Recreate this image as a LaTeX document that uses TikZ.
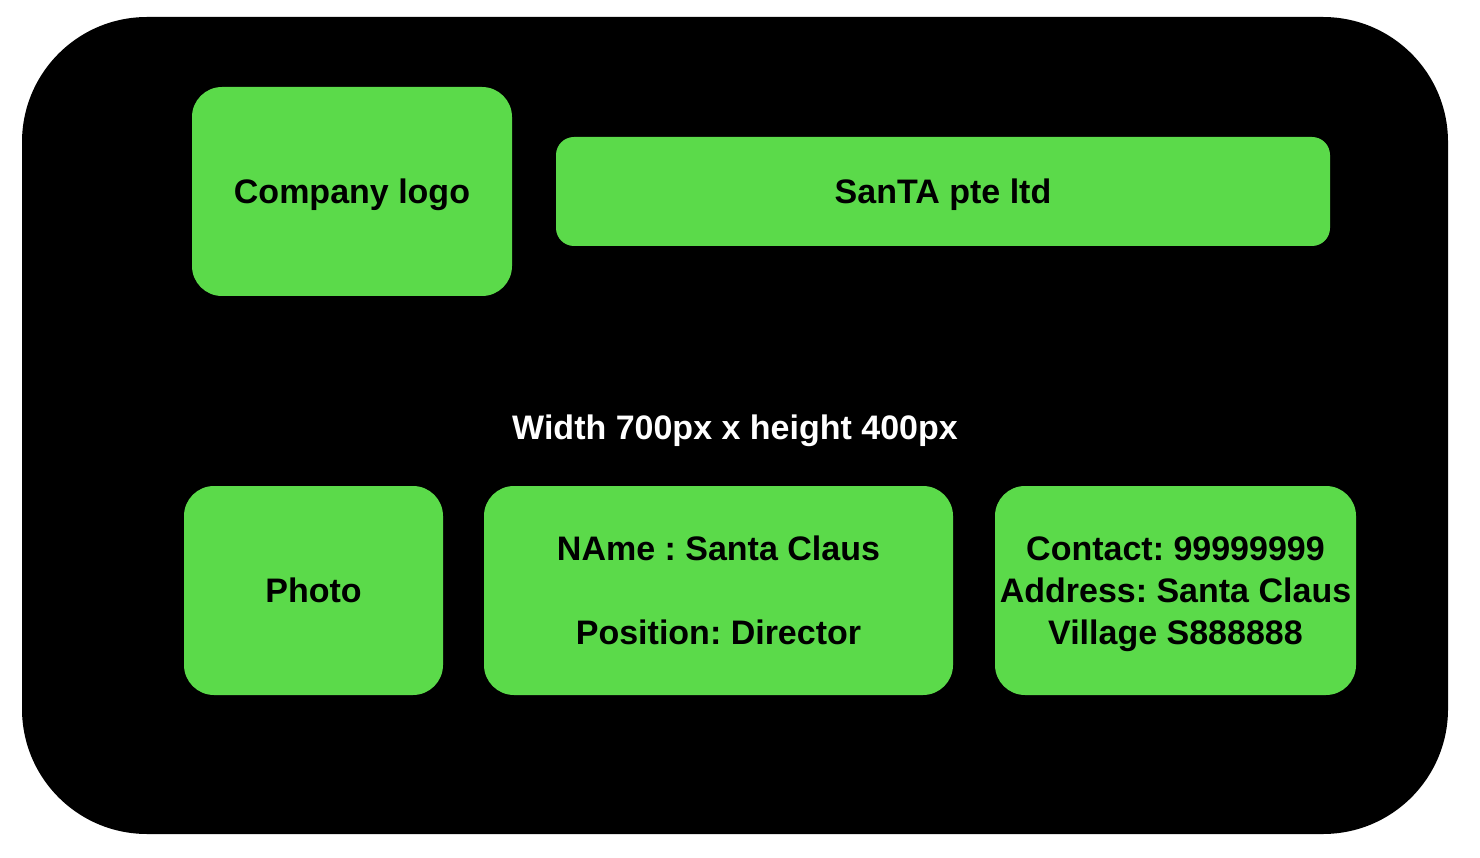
\documentclass[tikz,border=0pt]{standalone}
\usepackage{fontspec}
\setmainfont{Liberation Sans}
\definecolor{cardgreen}{RGB}{91,218,74}
\begin{document}
\frenchspacing
\begin{tikzpicture}[x=1pt,y=-1pt,
  greenbox/.style={fill=cardgreen, draw=none, rounded corners=30pt, align=center,
    inner sep=0pt, text depth=0pt, font=\fontsize{34}{42}\selectfont\bfseries, text=black},
  bigtext/.style={font=\fontsize{34}{42}\selectfont\bfseries, text=white, text depth=0pt}]
\useasboundingbox (0,0) rectangle (1480,858);
\fill[black, rounded corners=125pt] (22,17) rectangle (1448,834);
\node[greenbox, minimum width=320pt, minimum height=209pt] (logo) at (352,191.5) {Company logo};
\node[greenbox, rounded corners=18pt, minimum width=774pt, minimum height=109pt] (name) at (943,191.5) {SanTA pte ltd};
\node[bigtext] (size) at (735,427) {Width 700px x height 400px};
\node[greenbox, minimum width=259pt, minimum height=209pt] (photo) at (313.5,590.5) {Photo};
\node[greenbox, minimum width=469pt, minimum height=209pt] (person) at (718.5,590.5) {NAme : Santa Claus\\[42pt]Position: Director};
\node[greenbox, minimum width=361pt, minimum height=209pt] (contact) at (1175.5,590.5) {Contact: 99999999\\Address: Santa Claus\\Village S888888};
\end{tikzpicture}
\end{document}
